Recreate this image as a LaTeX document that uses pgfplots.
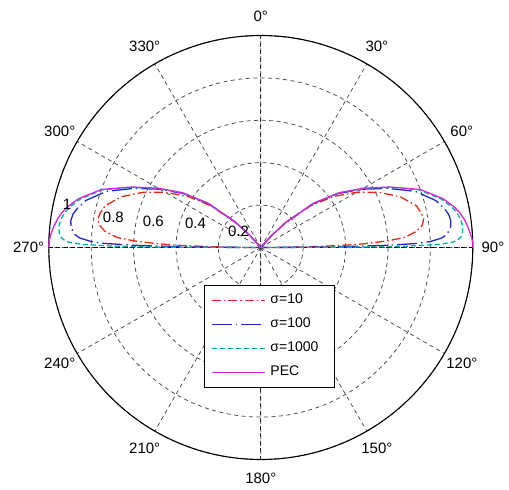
\documentclass[border=0pt]{standalone}
\usepackage{fontspec}
\setmainfont{Liberation Sans}
\usepackage{pgfplots}
\pgfplotsset{compat=1.18}
\usepgfplotslibrary{polar}

\definecolor{cRed}{RGB}{230,40,20}
\definecolor{cBlue}{RGB}{30,40,200}
\definecolor{cCyan}{RGB}{0,175,165}
\definecolor{cMag}{RGB}{215,40,215}

\begin{document}
\begin{tikzpicture}
\begin{polaraxis}[
  scale only axis, width=424bp, height=424bp,
  clip=false,
  xmin=0, xmax=360, ymin=0, ymax=1,
  xtick={0,30,...,330}, ytick={0.2,0.4,0.6,0.8,1},
  xticklabels={}, yticklabels={},
  major tick length=0pt,
  grid=major,
  major grid style={draw=black!72, line width=0.75bp, dash pattern=on 4bp off 3.5bp},
  x axis line style={black, line width=1.1bp},
  y axis line style={draw=none},
  font=\fontsize{15bp}{17bp}\selectfont,
  legend style={at={(0.3665,0.4116)}, anchor=north west, draw=black, line width=0.9bp,
    fill=white, font=\fontsize{14bp}{16bp}\selectfont,
    inner xsep=6.5bp, inner ysep=6.5bp, row sep=7bp,
    nodes={inner xsep=5bp, inner ysep=2bp, text height=10bp, text depth=3bp}},
  legend cell align=left,
  legend image code/.code={\draw[#1] (0bp,0bp) -- (53bp,0bp);},
]
% horizontal and vertical reference lines
\draw[black, line width=0.9bp, dash pattern=on 4bp off 3.5bp] (axis cs:0,1) -- (axis cs:180,1);
\draw[black!85, line width=0.8bp, dash pattern=on 4bp off 3.5bp] (axis cs:90,1) -- (axis cs:270,1);

% sigma = 10
\addplot[cRed, line width=1.3bp, dash pattern=on 9bp off 3bp on 1.5bp off 3bp] coordinates {
(130,0) (132,0.07) (135,0.16) (140,0.305) (145,0.42) (150,0.52) (155,0.615) (160,0.70)
(165,0.76) (168,0.775) (170,0.78) (172,0.77) (174,0.74) (176,0.68) (177,0.6) (178,0.48)
(178.5,0.38) (179,0.26) (179.5,0.12) (179.75,0.06) (180,0)
(0,0) (0.25,0.06) (0.5,0.12) (1,0.26) (1.5,0.38) (2,0.48) (3,0.6) (4,0.68) (6,0.74)
(8,0.77) (10,0.78) (12,0.775) (15,0.76) (20,0.70) (25,0.615) (30,0.52) (35,0.42)
(40,0.305) (45,0.16) (48,0.07) (50,0)
};
\addlegendentry{σ=10}

% sigma = 100
\addplot[cBlue, line width=1.3bp, dash pattern=on 20bp off 4bp on 1.5bp off 4bp] coordinates {
(130,0) (132,0.074) (135,0.168) (140,0.32) (145,0.443) (150,0.55) (155,0.66) (160,0.775)
(165,0.855) (168,0.885) (170,0.9) (172,0.905) (174,0.9) (176,0.88) (177,0.855) (178,0.8)
(178.5,0.74) (179,0.6) (179.5,0.36) (179.75,0.2) (180,0)
(0,0) (0.25,0.2) (0.5,0.36) (1,0.6) (1.5,0.74) (2,0.8) (3,0.855) (4,0.88) (6,0.9)
(8,0.905) (10,0.9) (12,0.885) (15,0.855) (20,0.775) (25,0.66) (30,0.55) (35,0.443)
(40,0.32) (45,0.168) (48,0.074) (50,0)
};
\addlegendentry{σ=100}

% sigma = 1000
\addplot[cCyan, line width=1.3bp, dash pattern=on 5bp off 3bp] coordinates {
(130,0) (132,0.075) (135,0.17) (140,0.323) (145,0.448) (150,0.557) (155,0.672) (160,0.795)
(165,0.882) (168,0.92) (170,0.94) (172,0.952) (174,0.958) (176,0.953) (177,0.945) (178,0.925)
(178.5,0.9) (179,0.84) (179.5,0.68) (179.75,0.45) (180,0)
(0,0) (0.25,0.45) (0.5,0.68) (1,0.84) (1.5,0.9) (2,0.925) (3,0.945) (4,0.953) (6,0.958)
(8,0.952) (10,0.94) (12,0.92) (15,0.882) (20,0.795) (25,0.672) (30,0.557) (35,0.448)
(40,0.323) (45,0.17) (48,0.075) (50,0)
};
\addlegendentry{σ=1000\rule{5bp}{0pt}}

% perfect conductor
\addplot[cMag, line width=1.3bp, forget plot] coordinates {
(130,0) (132,0.075) (135,0.17) (140,0.325) (145,0.45) (150,0.56) (155,0.675) (160,0.80)
(165,0.89) (168,0.93) (170,0.952) (172,0.968) (174,0.98) (176,0.99) (178,0.998) (180,1)
};
\addplot[cMag, line width=1.3bp] coordinates {
(0,1) (2,0.998) (4,0.99) (6,0.98) (8,0.968) (10,0.952) (12,0.93) (15,0.89) (20,0.80)
(25,0.675) (30,0.56) (35,0.45) (40,0.325) (45,0.17) (48,0.075) (50,0)
};
\addlegendentry{PEC}

% angle labels
\node at (axis cs:0,1.095) {90°};
\node at (axis cs:30,1.095) {60°};
\node at (axis cs:60,1.095) {30°};
\node at (axis cs:90,1.09) {0°};
\node at (axis cs:120,1.095) {330°};
\node at (axis cs:150,1.095) {300°};
\node at (axis cs:180,1.095) {270°};
\node at (axis cs:210,1.095) {240°};
\node at (axis cs:240,1.095) {210°};
\node at (axis cs:270,1.09) {180°};
\node at (axis cs:300,1.095) {150°};
\node at (axis cs:330,1.095) {120°};

% radius labels
\node[anchor=west, inner sep=0pt] at (axis cs:154.1,0.173) {0.2};
\node[anchor=west, inner sep=0pt] at (axis cs:162.3,0.376) {0.4};
\node[anchor=west, inner sep=0pt] at (axis cs:167.3,0.571) {0.6};
\node[anchor=west, inner sep=0pt] at (axis cs:169.25,0.759) {0.8};
\node[anchor=west, inner sep=0pt] at (axis cs:167.6,0.957) {1};

\coordinate (c) at (axis cs:0,0);
\end{polaraxis}
\path ([shift={(-260.8bp,-242.5bp)}]c) rectangle ([shift={(248.2bp,247.5bp)}]c);
\end{tikzpicture}
\end{document}
